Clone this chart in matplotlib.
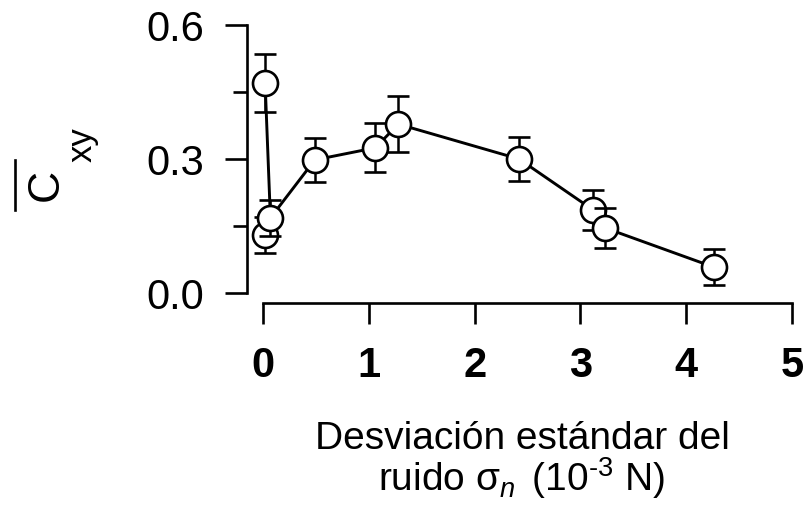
import numpy as np
import matplotlib
matplotlib.use("Agg")
import matplotlib.pyplot as plt
from matplotlib.lines import Line2D

plt.rcParams['font.family'] = ['Liberation Sans', 'DejaVu Sans']
plt.rcParams['mathtext.fontset'] = 'custom'
plt.rcParams['mathtext.rm'] = 'Liberation Sans'
plt.rcParams['mathtext.it'] = 'Liberation Sans:italic'
plt.rcParams['mathtext.bf'] = 'Liberation Sans:bold'

# coherencia media frente a la desviación del ruido
sigma = [0.02, 0.02, 0.07, 0.49, 1.06, 1.28, 2.42, 3.12, 3.23, 4.26]
cxy = [0.13, 0.47, 0.168, 0.298, 0.325, 0.378, 0.30, 0.186, 0.146, 0.058]
cxy_err = [0.04, 0.065, 0.04, 0.05, 0.055, 0.062, 0.05, 0.045, 0.045, 0.04]
x_ticks = [0, 1, 2, 3, 4, 5]
y_ticks = [0.0, 0.3, 0.6]
y_minor = [0.15, 0.45]

W, H = 804, 511
fig = plt.figure(figsize=(W / 100, H / 100), dpi=100)
ax = fig.add_axes([263 / W, 1 - 293 / H, 529 / W, 268 / H])

# curva (el primer punto queda fuera de la línea)
ax.plot(sigma[1:], cxy[1:], color='black', lw=2.1, zorder=2, clip_on=False)
for i in range(len(sigma)):
    ax.errorbar(sigma[i], cxy[i], yerr=cxy_err[i], fmt='o', ms=18,
                mfc='white', mec='black', mew=1.9, ecolor='black',
                elinewidth=1.8, capsize=8, capthick=2.0,
                zorder=3 + i, clip_on=False)

ax.set_xlim(0, 5)
ax.set_ylim(0, 0.6)
for s in ['top', 'right']:
    ax.spines[s].set_visible(False)
ax.spines['left'].set_position(('outward', 11.5))
ax.spines['bottom'].set_position(('outward', 7.2))
ax.spines['left'].set_linewidth(1.9)
ax.spines['bottom'].set_linewidth(1.9)

ax.set_xticks(x_ticks)
ax.set_xticklabels([str(t) for t in x_ticks], fontsize=30, fontweight='bold')
ax.set_yticks(y_ticks)
ax.set_yticklabels(['%.1f' % t for t in y_ticks], fontsize=30)
ax.set_yticks(y_minor, minor=True)
ax.tick_params(axis='x', direction='out', length=15, width=1.9, pad=16)
ax.tick_params(axis='y', which='major', direction='out', length=16, width=1.9, pad=15)
ax.tick_params(axis='y', which='minor', direction='out', length=10, width=1.9)

# etiqueta del eje y: C con barra y subíndice xy, girada
fig.text(46 / W, 1 - 185 / H, 'C', rotation=90, fontsize=32,
         ha='center', va='center')
fig.text(82 / W, 1 - 145 / H, 'xy', rotation=90, fontsize=25,
         ha='center', va='center')
fig.add_artist(Line2D([15 / W, 15 / W], [1 - 160 / H, 1 - 210 / H],
                      transform=fig.transFigure, color='black', lw=1.9))

# etiqueta del eje x en dos líneas
fig.text(522 / W, 1 - 461 / H,
         'Desviación estándar del\n'
         r'ruido σ$_{\mathit{n}}$ $\,$(10$^{\text{-3}}$ N)',
         fontsize=28, ha='center', va='center', multialignment='center',
         linespacing=0.93)

fig.savefig('out.png', dpi=100)
